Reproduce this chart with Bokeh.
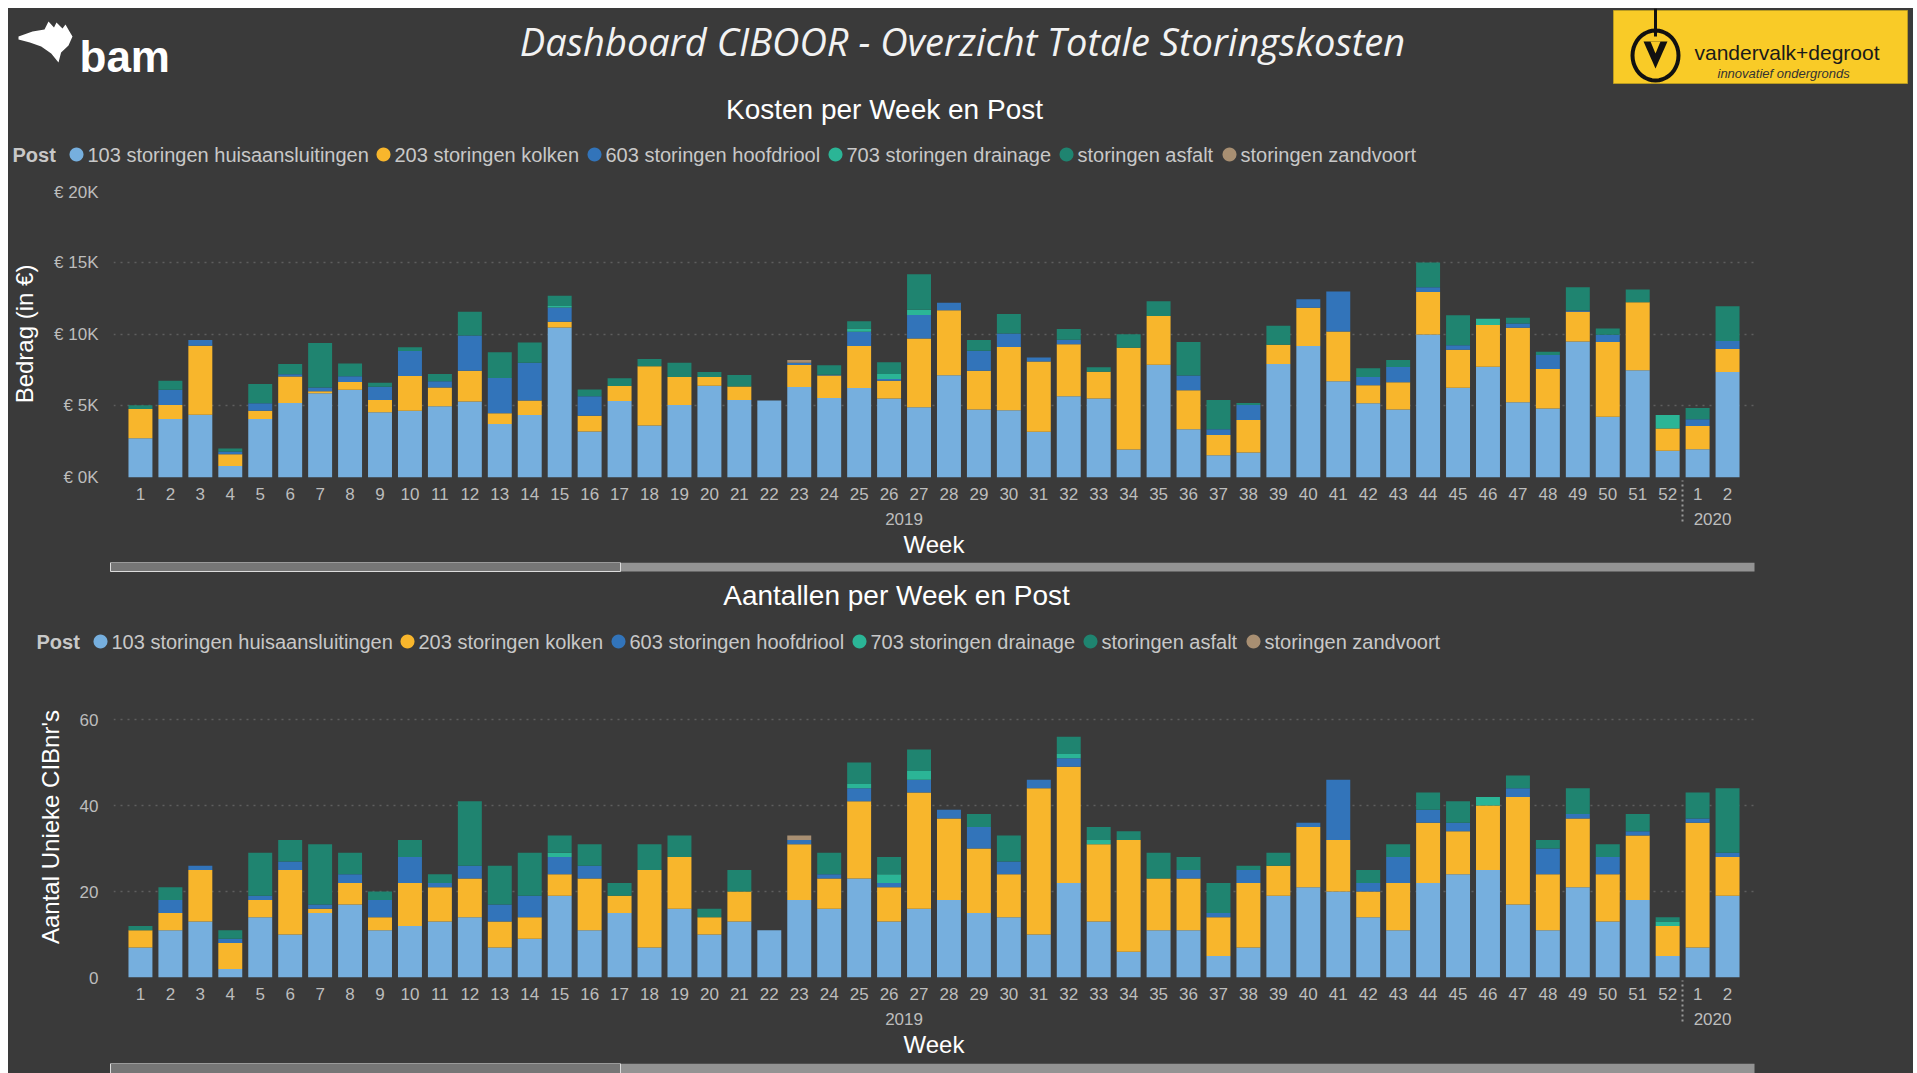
import math
from bokeh.plotting import figure
from bokeh.layouts import column
from bokeh.models import (Plot, Range1d, FactorRange, FixedTicker, ColumnDataSource, Label,
                          BoxAnnotation, PolyAnnotation)
from bokeh.embed import file_html
from bokeh.resources import INLINE

# ---------------- data ----------------
years = ["2019"] * 52 + ["2020"] * 2
weeks = [str(w) for w in range(1, 53)] + ["1", "2"]

series = ["103 storingen huisaansluitingen", "203 storingen kolken",
          "603 storingen hoofdriool", "703 storingen drainage",
          "storingen asfalt", "storingen zandvoort"]
colors = ["#76afde", "#f8b62c", "#3274ba", "#2bb596", "#1f8470", "#a88f72"]

# Kosten (EUR) per week
kosten_huis = [2740, 4080, 4380, 810, 4080, 5190, 5870, 6120, 4540, 4660, 4960, 5290, 3730, 4360,
               10460, 3200, 5330, 3620, 5060, 6400, 5400, 5360, 6310, 5540, 6240, 5500, 4890, 7120,
               4730, 4680, 3180, 5660, 5500, 1950, 7860, 3360, 1550, 1740, 7910, 9160, 6700, 5170,
               4730, 9970, 6260, 7720, 5240, 4800, 9480, 4240, 7470, 1860, 1970, 7350]
kosten_kolken = [2040, 980, 4800, 810, 580, 1840, 140, 540, 860, 2410, 1320, 2150, 750, 1000,
                 390, 1110, 1050, 4130, 1940, 600, 950, 0, 1530, 1560, 2920, 1250, 4800, 4540,
                 2710, 4410, 4910, 3620, 1870, 7090, 3390, 2720, 1420, 2270, 1340, 2670, 3480, 1250,
                 1900, 2950, 2640, 2900, 5190, 2760, 2070, 5200, 4750, 1550, 1620, 1600]
kosten_hoofdriool = [0, 1060, 400, 200, 510, 160, 270, 390, 930, 1740, 420, 2460, 2450, 2640,
                     1000, 1350, 0, 0, 0, 0, 0, 0, 150, 60, 1000, 120, 1630, 510,
                     1390, 950, 280, 320, 0, 0, 0, 1020, 390, 1050, 0, 600, 2790, 580,
                     1070, 340, 310, 0, 310, 970, 80, 510, 0, 0, 470, 560]
kosten_drainage = [0, 0, 0, 0, 0, 0, 0, 0, 0, 0, 0, 0, 0, 0,
                   100, 0, 0, 0, 0, 0, 0, 0, 0, 0, 230, 350, 370, 0,
                   0, 0, 0, 0, 0, 0, 0, 0, 0, 0, 0, 0, 0, 0,
                   0, 0, 0, 440, 0, 0, 0, 0, 0, 950, 0, 0]
kosten_asfalt = [250, 630, 0, 200, 1350, 720, 3090, 900, 280, 260, 510, 1650, 1790, 1410,
                 710, 480, 530, 510, 1000, 350, 790, 0, 0, 670, 490, 810, 2480, 0,
                 750, 1350, 0, 740, 310, 950, 1040, 2340, 2040, 130, 1320, 0, 0, 610,
                 490, 1720, 2090, 0, 390, 240, 1620, 440, 880, 0, 790, 2430]
kosten_zandvoort = [0, 0, 0, 0, 0, 0, 0, 0, 0, 0, 0, 0, 0, 0,
                    0, 0, 0, 0, 0, 0, 0, 0, 200, 0, 0, 0, 0, 0,
                    0, 0, 0, 0, 0, 0, 0, 0, 0, 0, 0, 0, 0, 0,
                    0, 0, 0, 0, 0, 0, 0, 0, 0, 0, 0, 0]

# Aantal unieke CIBnr's per week
aantal_huis = [7, 11, 13, 2, 14, 10, 15, 17, 11, 12, 13, 14, 7, 9, 19, 11, 15, 7, 16, 10, 13, 11,
               18, 16, 23, 13, 16, 18, 15, 14, 10, 22, 13, 6, 11, 11, 5, 7, 19, 21, 20, 14, 11,
               22, 24, 25, 17, 11, 21, 13, 18, 5, 7, 19]
aantal_kolken = [4, 4, 12, 6, 4, 15, 1, 5, 3, 10, 8, 9, 6, 5, 5, 12, 4, 18, 12, 4, 7, 0,
                 13, 7, 18, 8, 27, 19, 15, 10, 34, 27, 18, 26, 12, 12, 9, 15, 7, 14, 12, 6, 11,
                 14, 10, 15, 25, 13, 16, 11, 15, 7, 29, 9]
aantal_hoofdriool = [0, 3, 1, 1, 1, 2, 1, 2, 4, 6, 1, 3, 4, 5, 4, 3, 0, 0, 0, 0, 0, 0,
                     1, 1, 3, 1, 3, 2, 5, 3, 2, 2, 0, 0, 0, 2, 1, 3, 0, 1, 14, 2, 6,
                     3, 2, 0, 2, 6, 1, 4, 1, 0, 1, 1]
aantal_drainage = [0, 0, 0, 0, 0, 0, 0, 0, 0, 0, 0, 0, 0, 0, 1, 0, 0, 0, 0, 0, 0, 0,
                   0, 0, 1, 2, 2, 0, 0, 0, 0, 1, 1, 0, 0, 0, 0, 0, 0, 0, 0, 0, 0,
                   0, 0, 2, 0, 0, 0, 0, 0, 1, 0, 0]
aantal_asfalt = [1, 3, 0, 2, 10, 5, 14, 5, 2, 4, 2, 15, 9, 10, 4, 5, 3, 6, 5, 2, 5, 0,
                 0, 5, 5, 4, 5, 0, 3, 6, 0, 4, 3, 2, 6, 3, 7, 1, 3, 0, 0, 3, 3,
                 4, 5, 0, 3, 2, 6, 3, 4, 1, 6, 15]
aantal_zandvoort = [0, 0, 0, 0, 0, 0, 0, 0, 0, 0, 0, 0, 0, 0, 0, 0, 0, 0, 0, 0, 0, 0,
                    1, 0, 0, 0, 0, 0, 0, 0, 0, 0, 0, 0, 0, 0, 0, 0, 0, 0, 0, 0, 0,
                    0, 0, 0, 0, 0, 0, 0, 0, 0, 0, 0]

kosten_yticks = [0, 5000, 10000, 15000, 20000]
kosten_ylabels = ["€ 0K", "€ 5K", "€ 10K", "€ 15K", "€ 20K"]
aantal_yticks = [0, 20, 40, 60]
aantal_ylabels = ["0", "20", "40", "60"]

dashboard_title = "Dashboard CIBOOR - Overzicht Totale Storingskosten"
title_kosten = "Kosten per Week en Post"
title_aantal = "Aantallen per Week en Post"
legend_title = "Post"

# ---------------- styling / layout (page pixel positions) ----------------
BG = "#3a3a3a"
TICK = "#bdbdbd"
LEG_TXT = "#c8c8c8"
FONT = "Liberation Sans"
W = 1905
X0, X1 = 8, 1913
FRAME_LEFT, FRAME_RIGHT = 110, 1754
LEGEND_CIRCLE_X = [76, 383, 594, 835, 1066, 1229]
HAS_FRAME_ALIGN = "frame_align" in Plot.properties()


def deco(y_top, y_bot):
    kw = {}
    if HAS_FRAME_ALIGN:
        kw["frame_align"] = False
        xr, bl, br = Range1d(X0, X1), 0, 0
    else:
        xr, bl, br = Range1d(FRAME_LEFT, FRAME_RIGHT), FRAME_LEFT - X0, X1 - FRAME_RIGHT
    f = figure(width=W, height=y_bot - y_top, x_range=xr,
               y_range=Range1d(y_bot, y_top), output_backend="svg",
               toolbar_location=None, x_axis_type=None, y_axis_type=None,
               title_location=None, min_border_left=bl,
               min_border_right=br, min_border_top=0, min_border_bottom=0,
               background_fill_color=None, border_fill_color=None, outline_line_color=None,
               **kw)
    return f


def lbl(p, x, y, text, size, color, style="normal", align="left", baseline="middle", font=FONT):
    p.add_layout(Label(x=x, y=y, x_units="data", y_units="data", text=text, text_font=font,
                       text_font_size=size, text_font_style=style, text_color=color,
                       text_align=align, text_baseline=baseline))


def box(p, l, r, t, b, fill, line=None, lw=1):
    p.add_layout(BoxAnnotation(left=l, right=r, top=t, bottom=b, fill_color=fill, fill_alpha=1,
                               line_color=line if line else fill,
                               line_alpha=1 if line else 0, line_width=lw))


def poly(p, xs, ys, fill=None, line=None, lw=1, dash="solid"):
    p.add_layout(PolyAnnotation(xs=xs, ys=ys, fill_color=fill if fill else "#000000",
                                fill_alpha=1 if fill else 0,
                                line_color=line if line else "#000000",
                                line_alpha=1 if line else 0, line_width=lw, line_dash=dash))


def ring(cx, cy, rx, ry, n=40):
    return ([cx + rx * math.cos(2 * math.pi * i / n) for i in range(n)],
            [cy + ry * math.sin(2 * math.pi * i / n) for i in range(n)])


def add_legend(p, y, dx):
    lbl(p, 12 + dx, y, legend_title, "20px", LEG_TXT, style="bold")
    for name, col, cx in zip(series, colors, LEGEND_CIRCLE_X):
        xs, ys = ring(cx + dx, y, 7, 7, 28)
        poly(p, xs, ys, fill=col)
        lbl(p, cx + dx + 11, y, name, "20px", LEG_TXT)


def chart(fig_top, fig_bot, frame_top, frame_bot, ymax, yticks, ylabels,
          ylabel, ylabel_standoff, stacks):
    factors = list(zip(years, weeks))
    xr = FactorRange(factors=factors, factor_padding=0, group_padding=0,
                     range_padding=0.4, range_padding_units="absolute")
    p = figure(width=W, height=fig_bot - fig_top, x_range=xr, y_range=Range1d(0, ymax),
               output_backend="svg", toolbar_location=None, title_location=None,
               min_border_left=FRAME_LEFT - X0, min_border_right=X1 - FRAME_RIGHT,
               min_border_top=frame_top - fig_top, min_border_bottom=fig_bot - frame_bot,
               background_fill_color=None, border_fill_color=None, outline_line_color=None)
    keys = [f"s{i}" for i in range(len(series))]
    data = {"x": factors}
    for k, vals in zip(keys, stacks):
        data[k] = vals
    src = ColumnDataSource(data)
    p.vbar_stack(keys, x="x", width=0.8, fill_color=colors, line_color=None, source=src)

    xa = p.xaxis[0]
    xa.axis_line_color = None
    xa.major_tick_line_color = None
    xa.minor_tick_line_color = None
    xa.major_tick_out = 0
    xa.major_label_standoff = 10
    xa.major_label_text_font = FONT
    xa.major_label_text_font_size = "17px"
    xa.major_label_text_color = TICK
    xa.group_text_font = FONT
    xa.group_text_font_size = "17px"
    xa.group_text_color = TICK
    xa.group_text_font_style = "normal"
    xa.separator_line_color = "#9a9a9a"
    xa.separator_line_dash = "2 3"
    xa.separator_line_width = 2
    xa.axis_label = "Week"
    xa.axis_label_text_font = FONT
    xa.axis_label_text_font_size = "24px"
    xa.axis_label_text_font_style = "normal"
    xa.axis_label_text_color = "#ffffff"
    xa.axis_label_standoff = 3

    ticker = FixedTicker(ticks=yticks)
    ya = p.yaxis[0]
    ya.ticker = ticker
    ya.major_label_overrides = {t: l for t, l in zip(yticks, ylabels)}
    ya.axis_line_color = None
    ya.major_tick_line_color = None
    ya.minor_tick_line_color = None
    ya.major_tick_out = 0
    ya.major_label_standoff = 15
    ya.major_label_text_font = FONT
    ya.major_label_text_font_size = "17px"
    ya.major_label_text_color = TICK
    ya.axis_label = ylabel
    ya.axis_label_text_font = FONT
    ya.axis_label_text_font_size = "24px"
    ya.axis_label_text_font_style = "normal"
    ya.axis_label_text_color = "#ffffff"
    ya.axis_label_standoff = ylabel_standoff

    p.xgrid.visible = False
    p.ygrid.ticker = ticker
    p.ygrid.grid_line_color = "#5e5e5e"
    p.ygrid.grid_line_dash = "2 5"
    p.ygrid.grid_line_width = 1.5
    return p


# ---------------- header + chart 1 title/legend ----------------
h1 = deco(8, 182)
lbl(h1, 962, 40, dashboard_title, "38px", "#f2f2f2", style="italic", align="center",
    font="Open Sans")
# bam logo
poly(h1, [18, 32, 44, 48, 53.5, 56, 62, 65, 69, 72, 68, 60.6, 58, 50.7, 40.7, 29.4, 18],
     [36, 31, 29, 21, 27, 22, 28, 24, 31, 36, 45, 52, 62, 53, 46, 42, 39], fill="#ffffff")
lbl(h1, 79, 56, "bam", "44px", "#ffffff", style="bold", baseline="alphabetic")
# vandervalk+degroot logo
box(h1, 1613, 1907, 10, 83, "#f9cb27", line="#b89a22")
box(h1, 1653.5, 1656.5, 8, 36, "#111111")
xs, ys = ring(1655, 55, 23, 25)
poly(h1, xs, ys, line="#111111", lw=4)
poly(h1, [1643, 1667, 1655], [41, 41, 68], fill="#111111")
poly(h1, [1650, 1660, 1655], [41, 41, 53], fill="#f9cb27")
lbl(h1, 1694, 52, "vandervalk+degroot", "21px", "#1a1a1a")
lbl(h1, 1717, 73, "innovatief ondergronds", "13px", "#333333", style="italic")
lbl(h1, 884, 109, title_kosten, "28px", "#ffffff", align="center")
add_legend(h1, 154, 0)

# ---------------- chart 1 ----------------
c1 = chart(182, 562, 190, 477, 20000, kosten_yticks, kosten_ylabels, "Bedrag (in €)", 13,
           [kosten_huis, kosten_kolken, kosten_hoofdriool, kosten_drainage, kosten_asfalt,
            kosten_zandvoort])

# ---------------- scrollbar 1 + chart 2 title/legend ----------------
h2 = deco(562, 668)
box(h2, 110, 1754, 562, 571, "#939393")
box(h2, 110, 620, 562, 571, "#767676", line="#dcdcdc")
lbl(h2, 896, 595, title_aantal, "28px", "#ffffff", align="center")
add_legend(h2, 641, 24)

# ---------------- chart 2 ----------------
c2 = chart(668, 1062, 676, 977, 70, aantal_yticks, aantal_ylabels, "Aantal Unieke CIBnr's", 13,
           [aantal_huis, aantal_kolken, aantal_hoofdriool, aantal_drainage, aantal_asfalt,
            aantal_zandvoort])

# ---------------- scrollbar 2 ----------------
s2 = deco(1062, 1073)
box(s2, 110, 1754, 1062, 1074, "#939393")
box(s2, 110, 620, 1062, 1074, "#767676", line="#dcdcdc")

layout = column(h1, c1, h2, c2, s2, spacing=0,
                styles={"margin-left": "8px", "margin-top": "8px", "background-color": BG})
open("out.html", "w").write(file_html(layout, INLINE))
